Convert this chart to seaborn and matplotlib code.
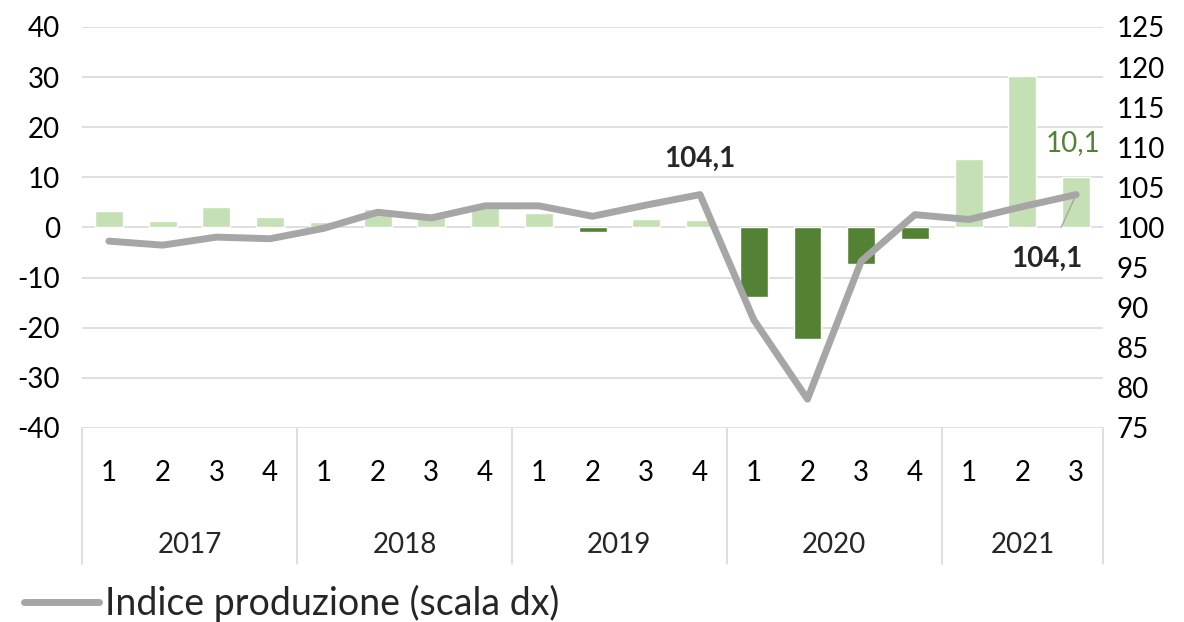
import numpy as np
import pandas as pd
import matplotlib.pyplot as plt
import matplotlib.transforms as mtransforms
import seaborn as sns

# dati: variazione tendenziale (barre, scala sx) e indice produzione (linea, scala dx)
years = ["2017", "2018", "2019", "2020", "2021"]
quarters = ["1", "2", "3", "4", "1", "2", "3", "4", "1", "2", "3", "4",
            "1", "2", "3", "4", "1", "2", "3"]
var_pct = [3.3, 1.3, 4.0, 2.1, 1.0, 3.6, 2.2, 3.8, 2.8, -0.9, 1.6, 1.5,
           -13.9, -22.3, -7.2, -2.2, 13.7, 30.3, 10.1]
indice = [98.3, 97.8, 98.8, 98.6, 99.9, 101.9, 101.2, 102.7, 102.7, 101.4, 102.8, 104.1,
          88.5, 78.6, 95.8, 101.6, 101.0, 102.6, 104.1]
quarters_per_year = [4, 4, 4, 4, 3]

sns.set_style("white")
plt.rcParams['font.family'] = ['Lato', 'DejaVu Sans']
plt.rcParams['axes.unicode_minus'] = False

light_green = "#C5E0B4"
dark_green = "#548235"
grey = "#A6A6A6"
fs = 20

df = pd.DataFrame({"pos": np.arange(len(var_pct)), "var": var_pct, "indice": indice})
df["col"] = [light_green if v >= 0 else dark_green for v in var_pct]

fig = plt.figure(figsize=(11.84, 6.22), dpi=100)
ax = fig.add_axes([0.0693, 0.3119, 0.8623, 0.6447])

sns.barplot(data=df, x="pos", y="var", hue="pos", palette=list(df["col"]),
            legend=False, width=0.52, saturation=1, ax=ax, zorder=2)
ax.set_xlim(-0.5, len(var_pct) - 0.5)
ax.set_ylim(-40, 40)
ax.set_yticks(range(-40, 41, 10))
ax.grid(axis="y", color="#D9D9D9", linewidth=1.2, zorder=0)
ax.set_axisbelow(True)
for s in ax.spines.values():
    s.set_visible(False)
ax.set_xlabel("")
ax.set_ylabel("")
ax.set_xticks(df["pos"])
ax.set_xticklabels(quarters)
ax.tick_params(axis="x", length=0, pad=23, labelsize=fs, labelcolor="black")
ax.tick_params(axis="y", length=0, pad=16, labelsize=fs, labelcolor="black")

ax2 = ax.twinx()
sns.lineplot(data=df, x="pos", y="indice", color=grey, linewidth=5,
             label="Indice produzione (scala dx)", ax=ax2, legend=False, zorder=3)
ax2.set_ylim(75, 125)
ax2.set_yticks(range(75, 126, 5))
for s in ax2.spines.values():
    s.set_visible(False)
ax2.set_ylabel("")
ax2.set_xlabel("")
ax2.tick_params(axis="y", length=0, pad=10, labelsize=fs, labelcolor="black")
ax2.set_xlim(-0.5, len(var_pct) - 0.5)

# asse categorie a due livelli
trans = mtransforms.blended_transform_factory(ax.transData, ax.transAxes)
bounds = np.concatenate([[0], np.cumsum(quarters_per_year)]) - 0.5
for b in bounds:
    ax.plot([b, b], [0, -0.34], transform=trans, color="#D9D9D9",
            linewidth=1.2, clip_on=False)
for i, y in enumerate(years):
    ax.text((bounds[i] + bounds[i + 1]) / 2, -0.292, y, transform=trans,
            ha="center", va="center", fontsize=fs)

# etichette
ax2.annotate("104,1", xy=(11, indice[11]), xytext=(0, 26), textcoords="offset points",
             ha="center", va="center", fontsize=fs, fontweight="bold")
ax.annotate("10,1", xy=(18, var_pct[18]), xytext=(-2, 24), textcoords="offset points",
            ha="center", va="center", fontsize=fs, color=dark_green)
ax2.annotate("104,1", xy=(18, indice[18]), xytext=(-21, -46), textcoords="offset points",
             ha="center", va="center", fontsize=fs, fontweight="bold",
             arrowprops=dict(arrowstyle="-", color=grey, linewidth=1,
                             shrinkA=12, shrinkB=2))

fig.legend(loc="center left", bbox_to_anchor=(0.0076, 0.03), frameon=False,
           fontsize=27, handlelength=2.0, handletextpad=0.15, borderaxespad=0)

fig.savefig("out.png", dpi=100)
